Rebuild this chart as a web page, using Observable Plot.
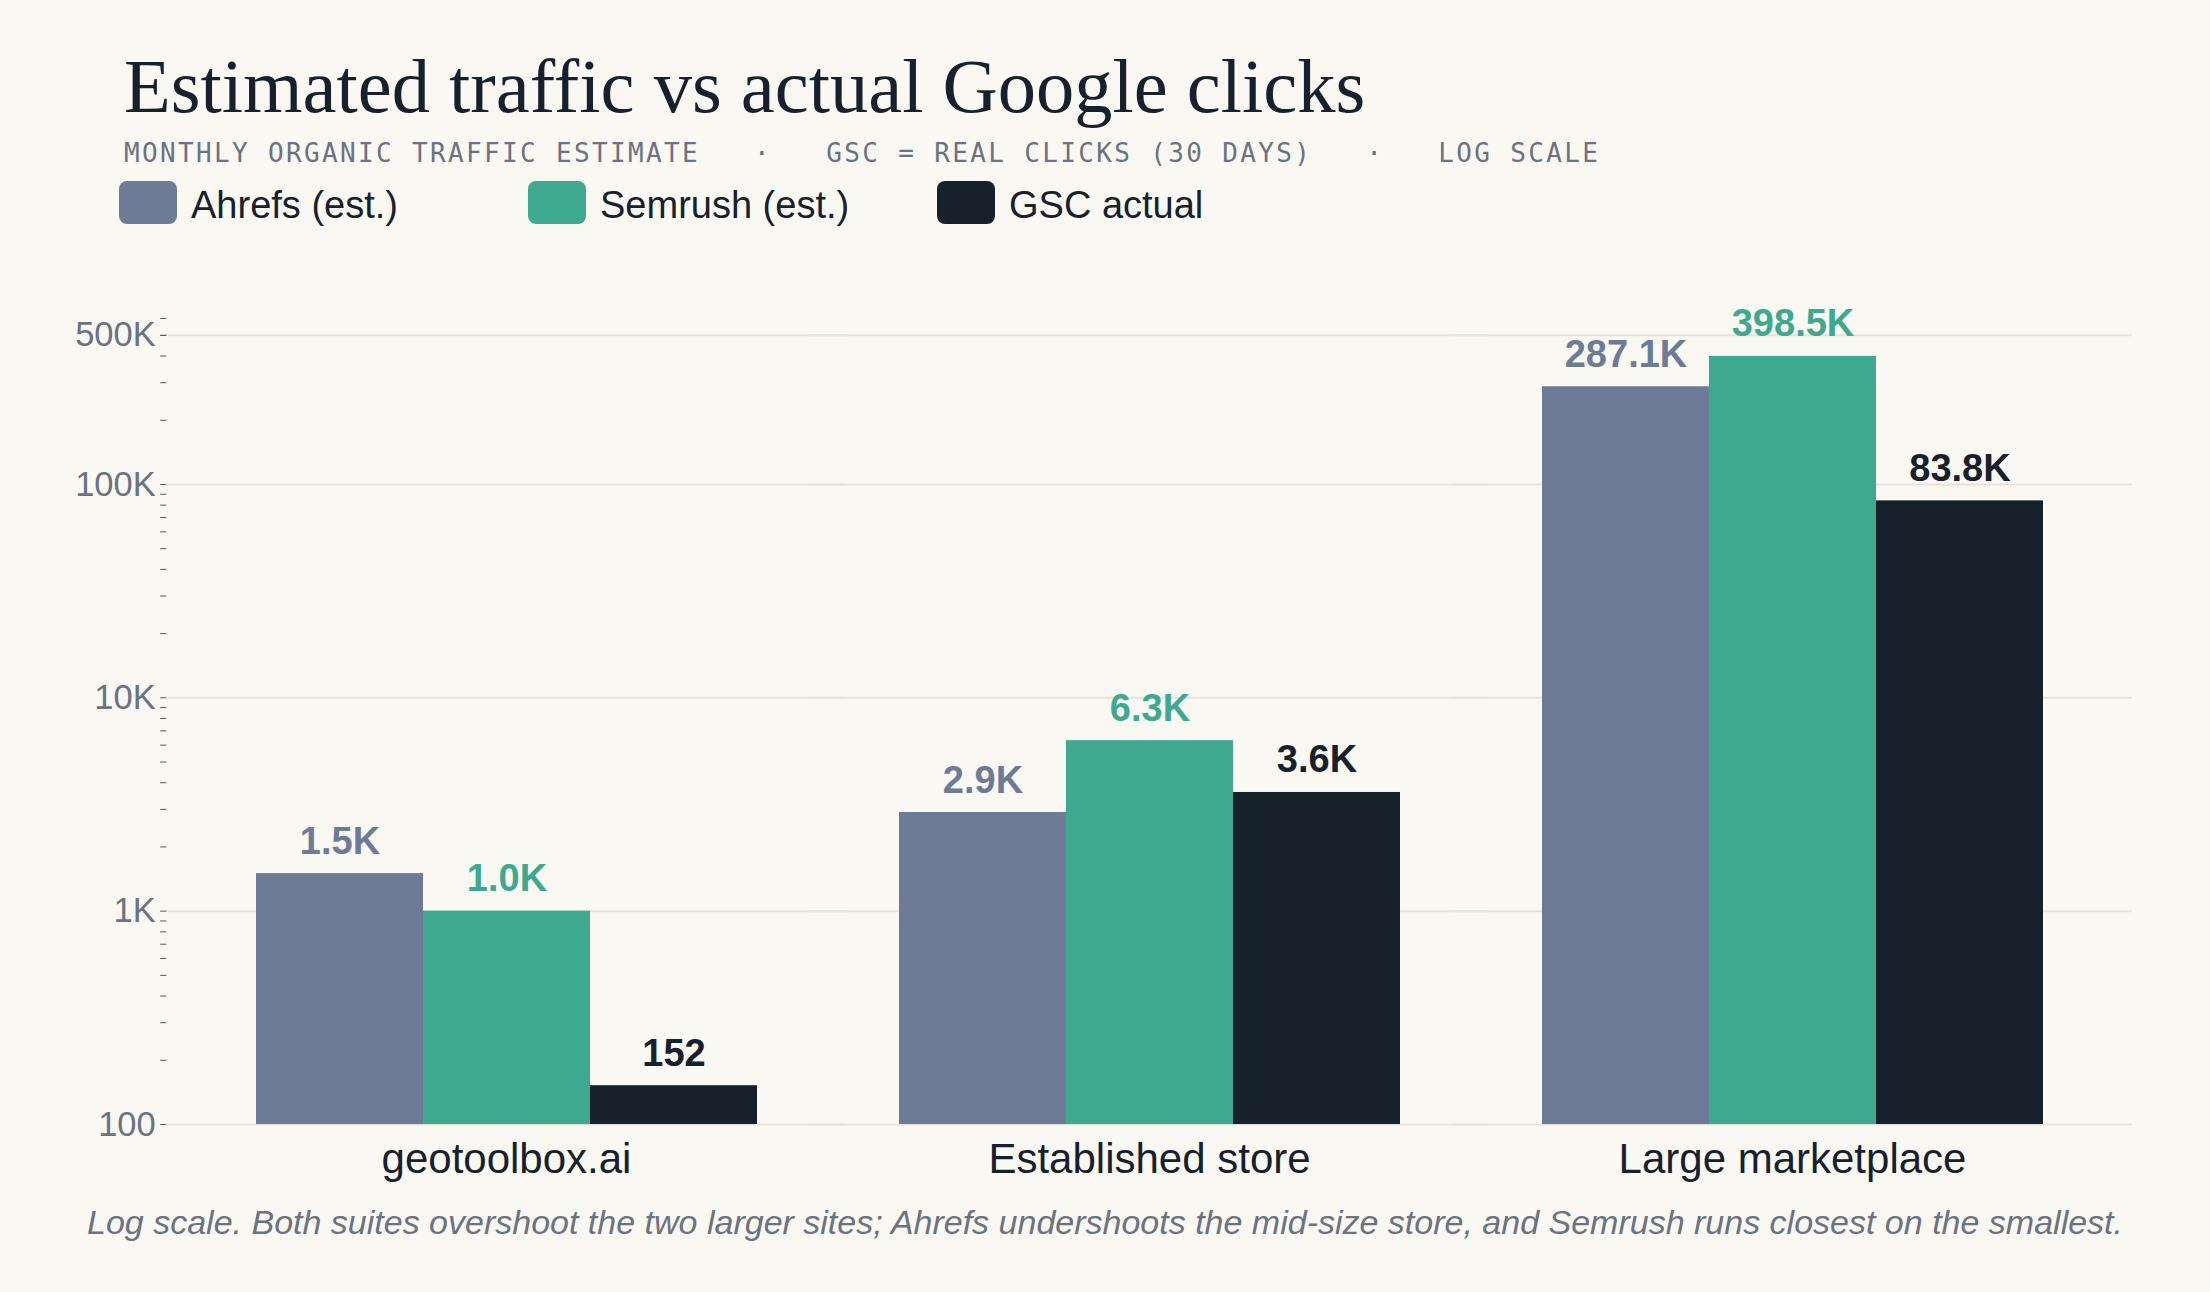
<!DOCTYPE html>
<html><head><meta charset="utf-8">
<script src="https://cdn.jsdelivr.net/npm/d3@7"></script>
<script src="https://cdn.jsdelivr.net/npm/@observablehq/plot@0.6"></script>
<style>
body{margin:0;background:#faf8f2;}
#wrap{position:relative;width:2210px;height:1292px;background:#faf8f2;overflow:hidden}
.title{position:absolute;left:124px;top:48px;font-family:"Liberation Serif",serif;font-size:76.5px;line-height:77px;color:#17202b;white-space:nowrap}
.sub{position:absolute;left:124px;top:140px;font-family:"DejaVu Sans Mono",monospace;font-size:26px;line-height:26px;letter-spacing:2.35px;color:#6b7280;white-space:pre}
.legend{position:absolute;left:119px;top:181px;height:43px;display:flex}
.item{width:409px;display:flex;align-items:center}
.sw{width:58px;height:43px;border-radius:8px;margin-right:14px;flex:none}
.lt{font-family:"Liberation Sans",Arial,sans-serif;font-size:38px;line-height:38px;color:#17202b;white-space:nowrap;padding-top:4px}
#chart{position:absolute;left:0;top:240px}
.cap{position:absolute;left:0;width:2210px;text-align:center;top:1205px;font-family:"Liberation Sans",Arial,sans-serif;font-style:italic;font-size:34px;line-height:34px;color:#6b7280;white-space:nowrap}
</style></head>
<body>
<div id="wrap">
  <div class="title">Estimated traffic vs actual Google clicks</div>
  <div class="sub">MONTHLY ORGANIC TRAFFIC ESTIMATE   ·   GSC = REAL CLICKS (30 DAYS)   ·   LOG SCALE</div>
  <div class="legend" id="legend"></div>
  <div id="chart"></div>
  <div class="cap">Log scale. Both suites overshoot the two larger sites; Ahrefs undershoots the mid-size store, and Semrush runs closest on the smallest.</div>
</div>
<script>
const sites = ["geotoolbox.ai", "Established store", "Large marketplace"];
const tools = ["Ahrefs (est.)", "Semrush (est.)", "GSC actual"];
const ahrefs = [1500, 2900, 287100];
const semrush = [1000, 6300, 398500];
const gsc = [152, 3600, 83800];
const toolColors = ["#6e7b97", "#3fa98f", "#17212c"];
const yTicks = [100, 1000, 10000, 100000, 500000];
const yTickLabels = ["100", "1K", "10K", "100K", "500K"];
const yDomain = [100, 640000];

const series = [ahrefs, semrush, gsc];
const data = sites.flatMap((s, i) => series.map((arr, j) => ({site: s, tool: tools[j], value: arr[i]})));
const fmt = v => v >= 1000 ? (v / 1000).toFixed(1) + "K" : String(v);
const minorTicks = [100, 1000, 10000, 100000]
  .flatMap(d => d3.range(2, 10).map(m => d * m))
  .filter(v => v <= yDomain[1]);

// legend
const lg = document.getElementById("legend");
tools.forEach((t, i) => {
  const it = document.createElement("div"); it.className = "item";
  const sw = document.createElement("div"); sw.className = "sw"; sw.style.background = toolColors[i];
  const tx = document.createElement("div"); tx.className = "lt"; tx.textContent = t;
  it.appendChild(sw); it.appendChild(tx); lg.appendChild(it);
});

const W = 2210, mL = 166, mR = 77;
const padIn = 0.219, padOut = 0.138;
// facet gaps, derived from the band-scale parameters, so gridlines and the y axis sit on the outer frame
const step = (W - mL - mR) / (sites.length - padIn + 2 * padOut);
const outerGap = step * padOut;

const chart = Plot.plot({
  width: W, height: 955,
  marginTop: 72, marginBottom: 71, marginLeft: mL, marginRight: mR,
  style: {background: "transparent", fontFamily: "'Liberation Sans', Arial, sans-serif", overflow: "visible"},
  y: {type: "log", domain: yDomain},
  fx: {domain: sites, paddingInner: padIn, paddingOuter: padOut},
  x: {domain: tools, padding: 0, axis: null},
  color: {domain: tools, range: toolColors},
  marks: [
    Plot.ruleY(yTicks, {stroke: "#e7e3dc", strokeWidth: 2, insetLeft: -outerGap, insetRight: -outerGap}),
    Plot.axisY(minorTicks, {tickSize: 6, tickFormat: () => "", stroke: "#555", label: null, dx: -outerGap}),
    Plot.axisY(yTicks, {tickSize: 6, tickPadding: 5, stroke: "#555", tickFormat: v => yTickLabels[yTicks.indexOf(v)], fontSize: 34.5, fill: "#6b7280", label: null, dx: -outerGap}),
    Plot.barY(data, {fx: "site", x: "tool", y1: yDomain[0], y2: "value", fill: "tool"}),
    Plot.text(data, {fx: "site", x: "tool", y: "value", text: d => fmt(d.value), fill: "tool", dy: -20, lineAnchor: "bottom", fontSize: 38, fontWeight: "bold"}),
    Plot.axisFx({anchor: "bottom", tickSize: 0, tickPadding: 19, fontSize: 42, fill: "#17202b", label: null})
  ]
});
document.getElementById("chart").appendChild(chart);
</script>
</body></html>
